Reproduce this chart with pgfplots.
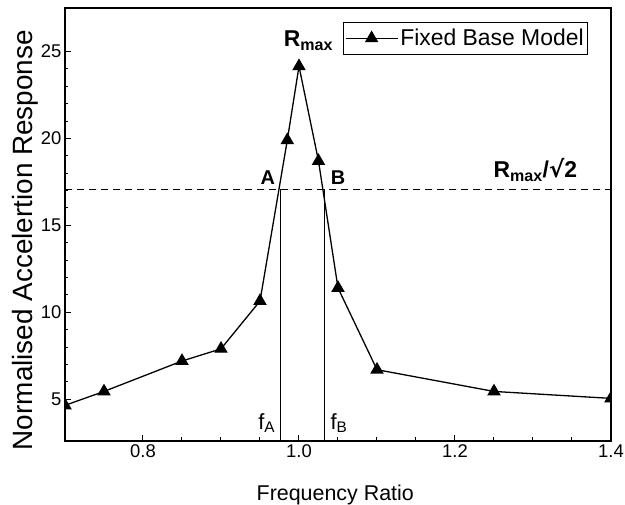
\documentclass[border=0pt]{standalone}
\usepackage{pgfplots}
\pgfplotsset{compat=1.18}
\usepackage{fontspec}
\setmainfont{Liberation Sans}
\newfontfamily\djv{DejaVu Sans}
\begin{document}
\begin{tikzpicture}
\path[use as bounding box] (-65bp,-64bp) rectangle (560bp,441bp);
\begin{axis}[
  at={(0,0)}, anchor=south west,
  scale only axis, width=546bp, height=433bp,
  xmin=0.7, xmax=1.4, ymin=2.6, ymax=27.5,
  xtick={0.8,1.0,1.2,1.4}, minor x tick num=3,
  ytick={5,10,15,20,25}, minor y tick num=4,
  xtick pos=left, ytick pos=left,
  tick align=inside,
  major tick length=6bp, minor tick length=3.5bp,
  xticklabel style={/pgf/number format/.cd, fixed, fixed zerofill, precision=1},
  /pgf/number format/assume math mode=true,
  tick label style={font=\fontsize{18.5}{22}\selectfont},
  xlabel={Frequency Ratio}, ylabel={Normalised Accelertion Response},
  xlabel style={font=\fontsize{21.5}{25}\selectfont, at={(axis description cs:0.495,-0.1363)}, anchor=base},
  ylabel style={font=\fontsize{28}{32}\selectfont, at={(axis description cs:-0.0604,0.464)}, anchor=base, rotate=0},
  axis line style={line width=1.2bp},
  every tick/.style={black, line width=1bp},
  clip marker paths=true,
  legend style={at={(0.958,0.968)}, anchor=north east, draw=black, line width=0.8bp,
    font=\fontsize{23}{26}\selectfont, inner xsep=2bp, inner ysep=5bp},
  legend cell align=left,
  legend image code/.code={\draw[mark repeat=2, mark phase=2] plot coordinates {(0bp,0bp) (26bp,0bp) (52bp,0bp)};},
]
\addplot[black, line width=1.3bp, mark=triangle*, mark size=6.5bp, mark options={solid, fill=black}] coordinates {
(0.7,4.65) (0.75,5.45) (0.85,7.2) (0.9,7.9) (0.95,10.65) (0.985,19.9) (1.0,24.15) (1.025,18.7) (1.05,11.4) (1.1,6.7) (1.25,5.45) (1.4,5.05)
};
\addlegendentry{Fixed Base Model}
\addplot[black, line width=1bp, dashed, dash pattern=on 7bp off 5bp, forget plot] coordinates {(0.7,17.07) (1.4,17.07)};
\addplot[black, line width=1.1bp, forget plot] coordinates {(0.976,2.6) (0.976,17.07)};
\addplot[black, line width=1.1bp, forget plot] coordinates {(1.033,2.6) (1.033,17.07)};
\node[font=\bfseries\fontsize{23}{27}\selectfont] at (axis cs:1.012,25.6) {R\textsubscript{max}};
\node[font=\bfseries\fontsize{20}{24}\selectfont] at (axis cs:0.960,17.75) {A};
\node[font=\bfseries\fontsize{20}{24}\selectfont] at (axis cs:1.050,17.75) {B};
\node[font=\bfseries\fontsize{23}{27}\selectfont] at (axis cs:1.303,18.2) {R\textsubscript{max}/{\djv\bfseries √}2};
\node[anchor=base east, font=\fontsize{22}{26}\selectfont] at (axis cs:0.974,3.28) {f\textsubscript{A}};
\node[anchor=base west, font=\fontsize{22}{26}\selectfont] at (axis cs:1.036,3.28) {f\textsubscript{B}};
\end{axis}
\end{tikzpicture}
\end{document}
